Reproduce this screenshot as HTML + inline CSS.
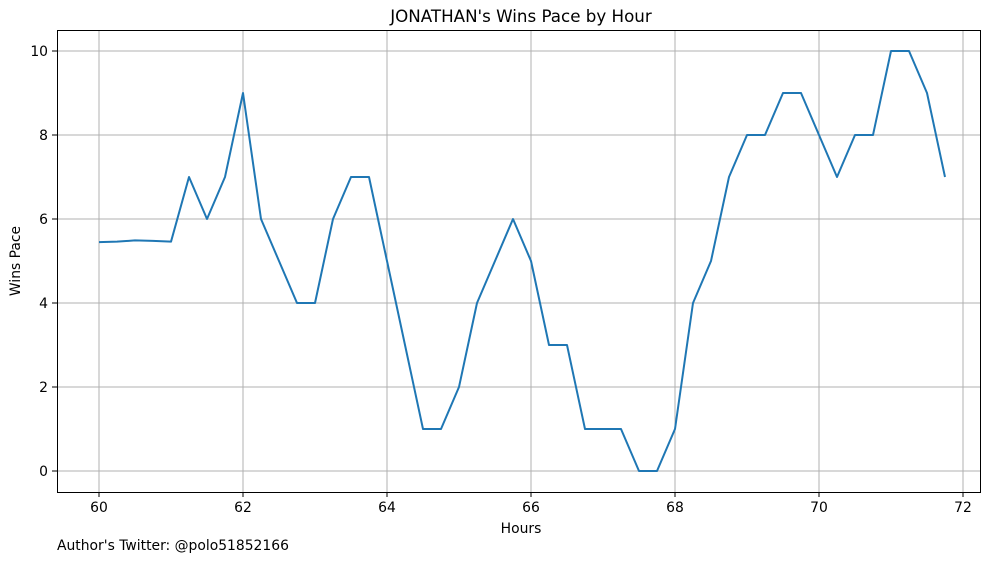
<!DOCTYPE html>
<html><head><meta charset="utf-8">
<style>
html,body{margin:0;padding:0;background:#fff;}
svg{display:block;font-family:"DejaVu Sans","Liberation Sans",sans-serif;}
</style></head>
<body>
<svg id="chart" width="997" height="562">
<text x="521" y="22" text-anchor="middle" font-size="16.7">JONATHAN's Wins Pace by Hour</text>
<text x="521" y="533" text-anchor="middle" font-size="13.9">Hours</text>
<text x="20" y="261" text-anchor="middle" font-size="13.9" transform="rotate(-90 20 261)">Wins Pace</text>
<text x="57" y="550" font-size="13.9">Author's Twitter: @polo51852166</text>
<g id="grid"></g><g id="ticks"></g><g id="plot"></g>
<rect x="57.5" y="30.5" width="923" height="462" fill="none" stroke="#000" stroke-width="1"/>
</svg>
<script>
const hours=[60,60.25,60.5,60.75,61,61.25,61.5,61.75,62,62.25,62.5,62.75,63,63.25,63.5,63.75,64,64.25,64.5,64.75,65,65.25,65.5,65.75,66,66.25,66.5,66.75,67,67.25,67.5,67.75,68,68.25,68.5,68.75,69,69.25,69.5,69.75,70,70.25,70.5,70.75,71,71.25,71.5,71.75];
const pace=[5.45,5.46,5.49,5.48,5.46,7,6,7,9,6,5,4,4,6,7,7,5,3,1,1,2,4,5,6,5,3,3,1,1,1,0,0,1,4,5,7,8,8,9,9,8,7,8,8,10,10,9,7];
const xTicks=[60,62,64,66,68,70,72];
const yTicks=[0,2,4,6,8,10];
const X=v=>99+(v-60)*72;
const Y=v=>471-v*42;
const NS="http://www.w3.org/2000/svg";
const grid=document.getElementById('grid'),ticks=document.getElementById('ticks'),plot=document.getElementById('plot');
function mk(tag,attrs,parent){const e=document.createElementNS(NS,tag);for(const k in attrs)e.setAttribute(k,attrs[k]);parent.appendChild(e);return e;}
xTicks.forEach(t=>{
 const gl=mk('line',{x1:X(t),x2:X(t),y1:30,y2:492,stroke:'#b0b0b0','stroke-width':1},grid);
 
 
 const tk=mk('line',{x1:X(t),x2:X(t),y1:492,y2:497,stroke:'#000'},ticks);
 
 
 const tl=mk('text',{x:X(t),y:512,'text-anchor':'middle','font-size':13.9},ticks);
 tl.textContent=t;
 
 
});
yTicks.forEach(t=>{
 const gl=mk('line',{x1:57,x2:980,y1:Y(t),y2:Y(t),stroke:'#b0b0b0','stroke-width':1},grid);
 
 
 const tk=mk('line',{x1:52,x2:57,y1:Y(t),y2:Y(t),stroke:'#000'},ticks);
 
 
 const tl=mk('text',{x:48,y:Y(t)+5,'text-anchor':'end','font-size':13.9},ticks);
 tl.textContent=t;
 
 
});
const pts=hours.map((h,i)=>X(h)+','+Y(pace[i])).join(' ');
const line=mk('polyline',{points:pts,fill:'none',stroke:'#1f77b4','stroke-width':2,'stroke-linejoin':'round'},plot);


</script>
</body></html>
